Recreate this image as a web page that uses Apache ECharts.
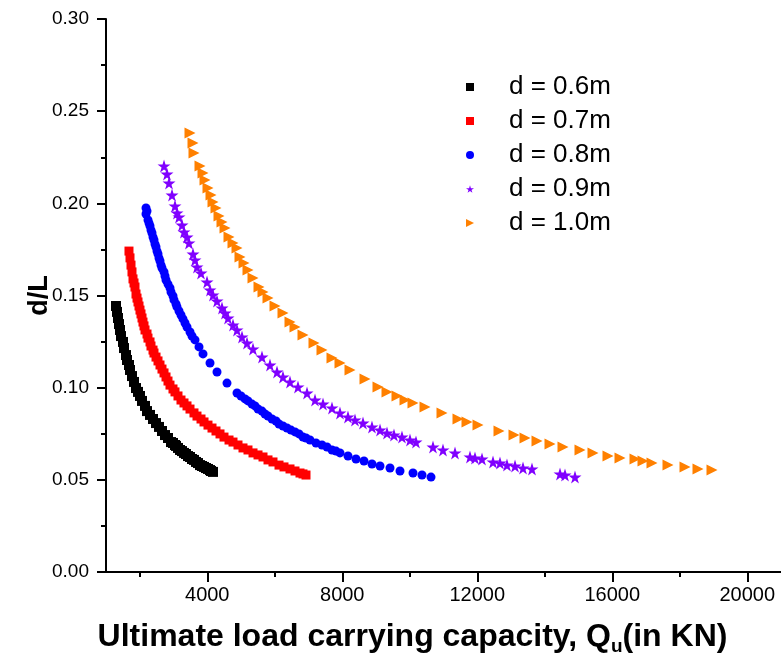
<!DOCTYPE html>
<html>
<head>
<meta charset="utf-8">
<script src="https://cdn.jsdelivr.net/npm/echarts@6/dist/echarts.min.js"></script>
<style>
html,body{margin:0;padding:0;background:#fff;}
#chart{width:781px;height:662px;}
</style>
</head>
<body>
<div id="chart"></div>
<script>
// ---- data ----
const seriesNames = ['d = 0.6m', 'd = 0.7m', 'd = 0.8m', 'd = 0.9m', 'd = 1.0m'];

const qu06 = [1296,1326,1356,1385,1415,1444,1504,1533,1593,1622,1681,1711,1770,1830,1889,1948,2007,2067,2156,2215,2304,2393,2482,2570,2659,2748,2837,2926,3044,3133,3252,3370,3489,3607,3726,3844,3963,4082,4170,
              3193,3311,3430,3548,3667,3785,3904,4022,4111,2985,3074];
const dl06 = [0.1443,0.1411,0.1378,0.1345,0.1313,0.1280,0.1248,0.1215,0.1177,0.1150,0.1123,0.1096,0.1063,0.1031,0.0998,0.0977,0.0955,0.0928,0.0901,0.0873,0.0852,0.0830,0.0808,0.0787,0.0765,0.0743,0.0727,0.0705,0.0689,0.0673,0.0656,0.0640,0.0624,0.0608,0.0591,0.0575,0.0564,0.0553,0.0543,
              0.0662,0.0646,0.0629,0.0613,0.0597,0.0580,0.0570,0.0559,0.0548,0.0700,0.0684];

const qu07 = [1681,1711,1741,1770,1800,1859,1889,1948,2007,2067,2126,2215,2304,2393,2482,2600,2719,2837,2985,3133,3311,3489,3696,3904,4141,4378,4645,4911,5207,5504,5800,6126,6452,6748,6926,
              4259,4496,4763,5059,5356,5652,5948,6274,6600,6837,3222,3400,3607,3815,4022,
              1830,1919,1978,2037,2096,2156,2244,2333,2422,2541,2659,2778,2896,3044];
const dl07 = [0.1741,0.1704,0.1665,0.1628,0.1590,0.1546,0.1508,0.1465,0.1421,0.1378,0.1335,0.1291,0.1248,0.1204,0.1166,0.1123,0.1080,0.1036,0.0993,0.0955,0.0917,0.0884,0.0846,0.0814,0.0781,0.0749,0.0716,0.0689,0.0662,0.0635,0.0608,0.0580,0.0559,0.0537,0.0526,
              0.0765,0.0732,0.0705,0.0673,0.0646,0.0624,0.0597,0.0570,0.0548,0.0532,0.0933,0.0901,0.0863,0.0830,0.0797,
              0.1568,0.1486,0.1443,0.1400,0.1356,0.1313,0.1269,0.1226,0.1188,0.1145,0.1101,0.1058,0.1014,0.0977];

const qu08 = [2185,2185,2244,2304,2363,2422,2482,2541,2600,2659,2748,2837,2926,3015,3104,3222,3341,3489,3637,3874,4082,4289,4585,4882,5119,5326,5504,5711,5919,6126,6363,6600,6837,7044,7400,7696,7933,8170,8407,8644,8881,9119,9415,9711,10096,10363,10630,
              2215,2274,2333,2393,2452,2511,2570,2630,2719,2778,2896,2985,3074,3163,3281,3400,3548,3756,
              5000,5207,5415,5622,5800,6037,6244,6481,6719,6926,7222,7548,7815];
const dl08 = [0.1975,0.1942,0.1910,0.1877,0.1839,0.1801,0.1763,0.1725,0.1687,0.1649,0.1606,0.1562,0.1519,0.1476,0.1438,0.1394,0.1351,0.1302,0.1259,0.1183,0.1134,0.1085,0.1025,0.0971,0.0939,0.0911,0.0884,0.0857,0.0830,0.0803,0.0781,0.0760,0.0732,0.0716,0.0689,0.0662,0.0646,0.0629,0.0613,0.0602,0.0586,0.0575,0.0564,0.0548,0.0537,0.0526,0.0515,
              0.1958,0.1893,0.1855,0.1817,0.1779,0.1741,0.1703,0.1665,0.1628,0.1584,0.1541,0.1497,0.1454,0.1416,0.1373,0.1329,0.1280,0.1221,
              0.0955,0.0928,0.0901,0.0873,0.0846,0.0819,0.0792,0.0770,0.0749,0.0727,0.0700,0.0678,0.0656];

const qu09 = [2719,2807,2867,2956,3044,3104,3163,3252,3311,3400,3459,3578,3637,3696,3815,3993,4082,4170,4289,4437,4526,4615,4763,4882,5030,5178,5356,5622,5859,6067,6244,6452,6689,6956,7193,7430,7696,7933,8170,8378,8615,8881,9119,9326,9533,9770,10007,10185,10689,10985,11341,11785,11933,12141,12467,12674,12881,13119,13356,13622,14452,14600,14896];
const dl09 = [0.2203,0.2159,0.2110,0.2045,0.1986,0.1948,0.1926,0.1882,0.1845,0.1817,0.1785,0.1725,0.1693,0.1655,0.1622,0.1573,0.1530,0.1503,0.1470,0.1432,0.1405,0.1378,0.1340,0.1313,0.1275,0.1242,0.1210,0.1166,0.1123,0.1085,0.1058,0.1031,0.1004,0.0971,0.0933,0.0911,0.0890,0.0863,0.0841,0.0825,0.0808,0.0787,0.0770,0.0754,0.0743,0.0732,0.0716,0.0705,0.0678,0.0662,0.0646,0.0624,0.0618,0.0613,0.0597,0.0591,0.0580,0.0575,0.0564,0.0559,0.0532,0.0526,0.0515];

const qu10 = [3489,3578,3607,3785,3874,3933,4022,4111,4170,4259,4348,4437,4526,4645,4763,4882,4970,5089,5207,5356,5533,5652,5800,6007,6244,6452,6600,6837,7163,7400,7696,7933,8230,8674,9059,9326,9622,9859,10096,10452,10956,11430,11697,12022,12645,13089,13415,13770,14156,14541,15044,15430,15874,16230,16674,16911,17178,17652,18156,18541,18956];
const dl10 = [0.2382,0.2327,0.2273,0.2203,0.2165,0.2127,0.2083,0.2045,0.2007,0.1975,0.1931,0.1899,0.1866,0.1817,0.1785,0.1758,0.1709,0.1676,0.1638,0.1595,0.1546,0.1519,0.1486,0.1443,0.1405,0.1356,0.1329,0.1286,0.1242,0.1204,0.1161,0.1134,0.1096,0.1047,0.1004,0.0977,0.0955,0.0933,0.0917,0.0895,0.0863,0.0830,0.0814,0.0797,0.0765,0.0743,0.0727,0.0711,0.0694,0.0678,0.0662,0.0646,0.0629,0.0618,0.0613,0.0602,0.0591,0.0580,0.0570,0.0559,0.0553];

const xMajorTicks = [4000, 8000, 12000, 16000, 20000];
const xMinorTicks = [2000, 6000, 10000, 14000, 18000];

// ---- chart ----
const zip = (xs, ys) => xs.map((x, i) => [x, ys[i]]);
const starPath = 'path://M50,0 L61,35 L98,35 L68,57 L79,91 L50,70 L21,91 L32,57 L2,35 L39,35 Z';
const triPath = 'path://M0,0 L10,5 L0,10 Z';

const styles = [
  {color: '#000000', symbol: 'rect', size: 10, icon: 'rect'},
  {color: '#FF0000', symbol: 'rect', size: 9, icon: 'rect'},
  {color: '#0000FF', symbol: 'circle', size: 9, icon: 'circle'},
  {color: '#8000FF', symbol: starPath, size: 13, icon: starPath},
  {color: '#FF8000', symbol: triPath, size: 11, icon: triPath}
];
const datasets = [zip(qu06, dl06), zip(qu07, dl07), zip(qu08, dl08), zip(qu09, dl09), zip(qu10, dl10)];

const font = 'Arial, "Liberation Sans", sans-serif';
const chart = echarts.init(document.getElementById('chart'), null, {renderer: 'canvas'});
chart.setOption({
  animation: false,
  backgroundColor: '#ffffff',
  textStyle: {fontFamily: font},
  grid: {left: 106, right: 0, top: 19, bottom: 90, containLabel: false, outerBoundsMode: 'none'},
  legend: {
    orient: 'vertical',
    left: 461,
    top: 69,
    itemWidth: 8,
    itemHeight: 8,
    itemGap: 8,
    textStyle: {fontSize: 26, color: '#000', fontFamily: font, padding: [0, 0, 0, 30]},
    data: seriesNames.map((n, i) => ({name: n, icon: styles[i].icon}))
  },
  xAxis: [{
    type: 'value',
    min: 1000, max: 21000,
    name: 'Ultimate load carrying capacity, Q{sub|u}(in KN)',
    nameLocation: 'middle',
    nameGap: 47,
    nameMoveOverlap: false,
    nameTextStyle: {
      fontSize: 32, fontWeight: 'bold', color: '#000', fontFamily: font, padding: [0, 62, 0, 0],
      rich: {sub: {fontSize: 19, fontWeight: 'bold', color: '#000', fontFamily: font, padding: [18, 0, 0, 0]}}
    },
    axisLine: {show: true, lineStyle: {color: '#000', width: 2}},
    axisTick: {show: true, inside: false, length: 10, lineStyle: {color: '#000', width: 2}, customValues: xMajorTicks},
    axisLabel: {show: true, fontSize: 20, color: '#000', margin: 13, fontFamily: font, customValues: xMajorTicks, formatter: v => String(v)},
    splitLine: {show: false}
  }, {
    type: 'value',
    position: 'bottom',
    min: 1000, max: 21000,
    axisLine: {show: false},
    axisTick: {show: true, inside: false, length: 5, lineStyle: {color: '#000', width: 2}, customValues: xMinorTicks},
    axisLabel: {show: false},
    splitLine: {show: false}
  }],
  yAxis: {
    type: 'value',
    min: 0, max: 0.3, interval: 0.05,
    name: 'd/L',
    nameLocation: 'middle',
    nameGap: 53,
    nameMoveOverlap: false,
    nameRotate: 90,
    nameTextStyle: {fontSize: 27, fontWeight: 'bold', color: '#000', fontFamily: font},
    axisLine: {show: true, lineStyle: {color: '#000', width: 2}},
    axisTick: {show: true, inside: false, length: 9, lineStyle: {color: '#000', width: 2}},
    minorTick: {show: true, splitNumber: 2, length: 5, lineStyle: {color: '#000', width: 2}},
    minorSplitLine: {show: false},
    axisLabel: {fontSize: 19, color: '#000', margin: 17, fontFamily: font, formatter: v => v.toFixed(2)},
    splitLine: {show: false}
  },
  series: datasets.map((d, i) => ({
    name: seriesNames[i],
    type: 'scatter',
    xAxisIndex: 0,
    yAxisIndex: 0,
    data: d,
    symbol: styles[i].symbol,
    symbolSize: styles[i].size,
    itemStyle: {color: styles[i].color, opacity: 1},
    emphasis: {disabled: true}
  }))
});
</script>
</body>
</html>
